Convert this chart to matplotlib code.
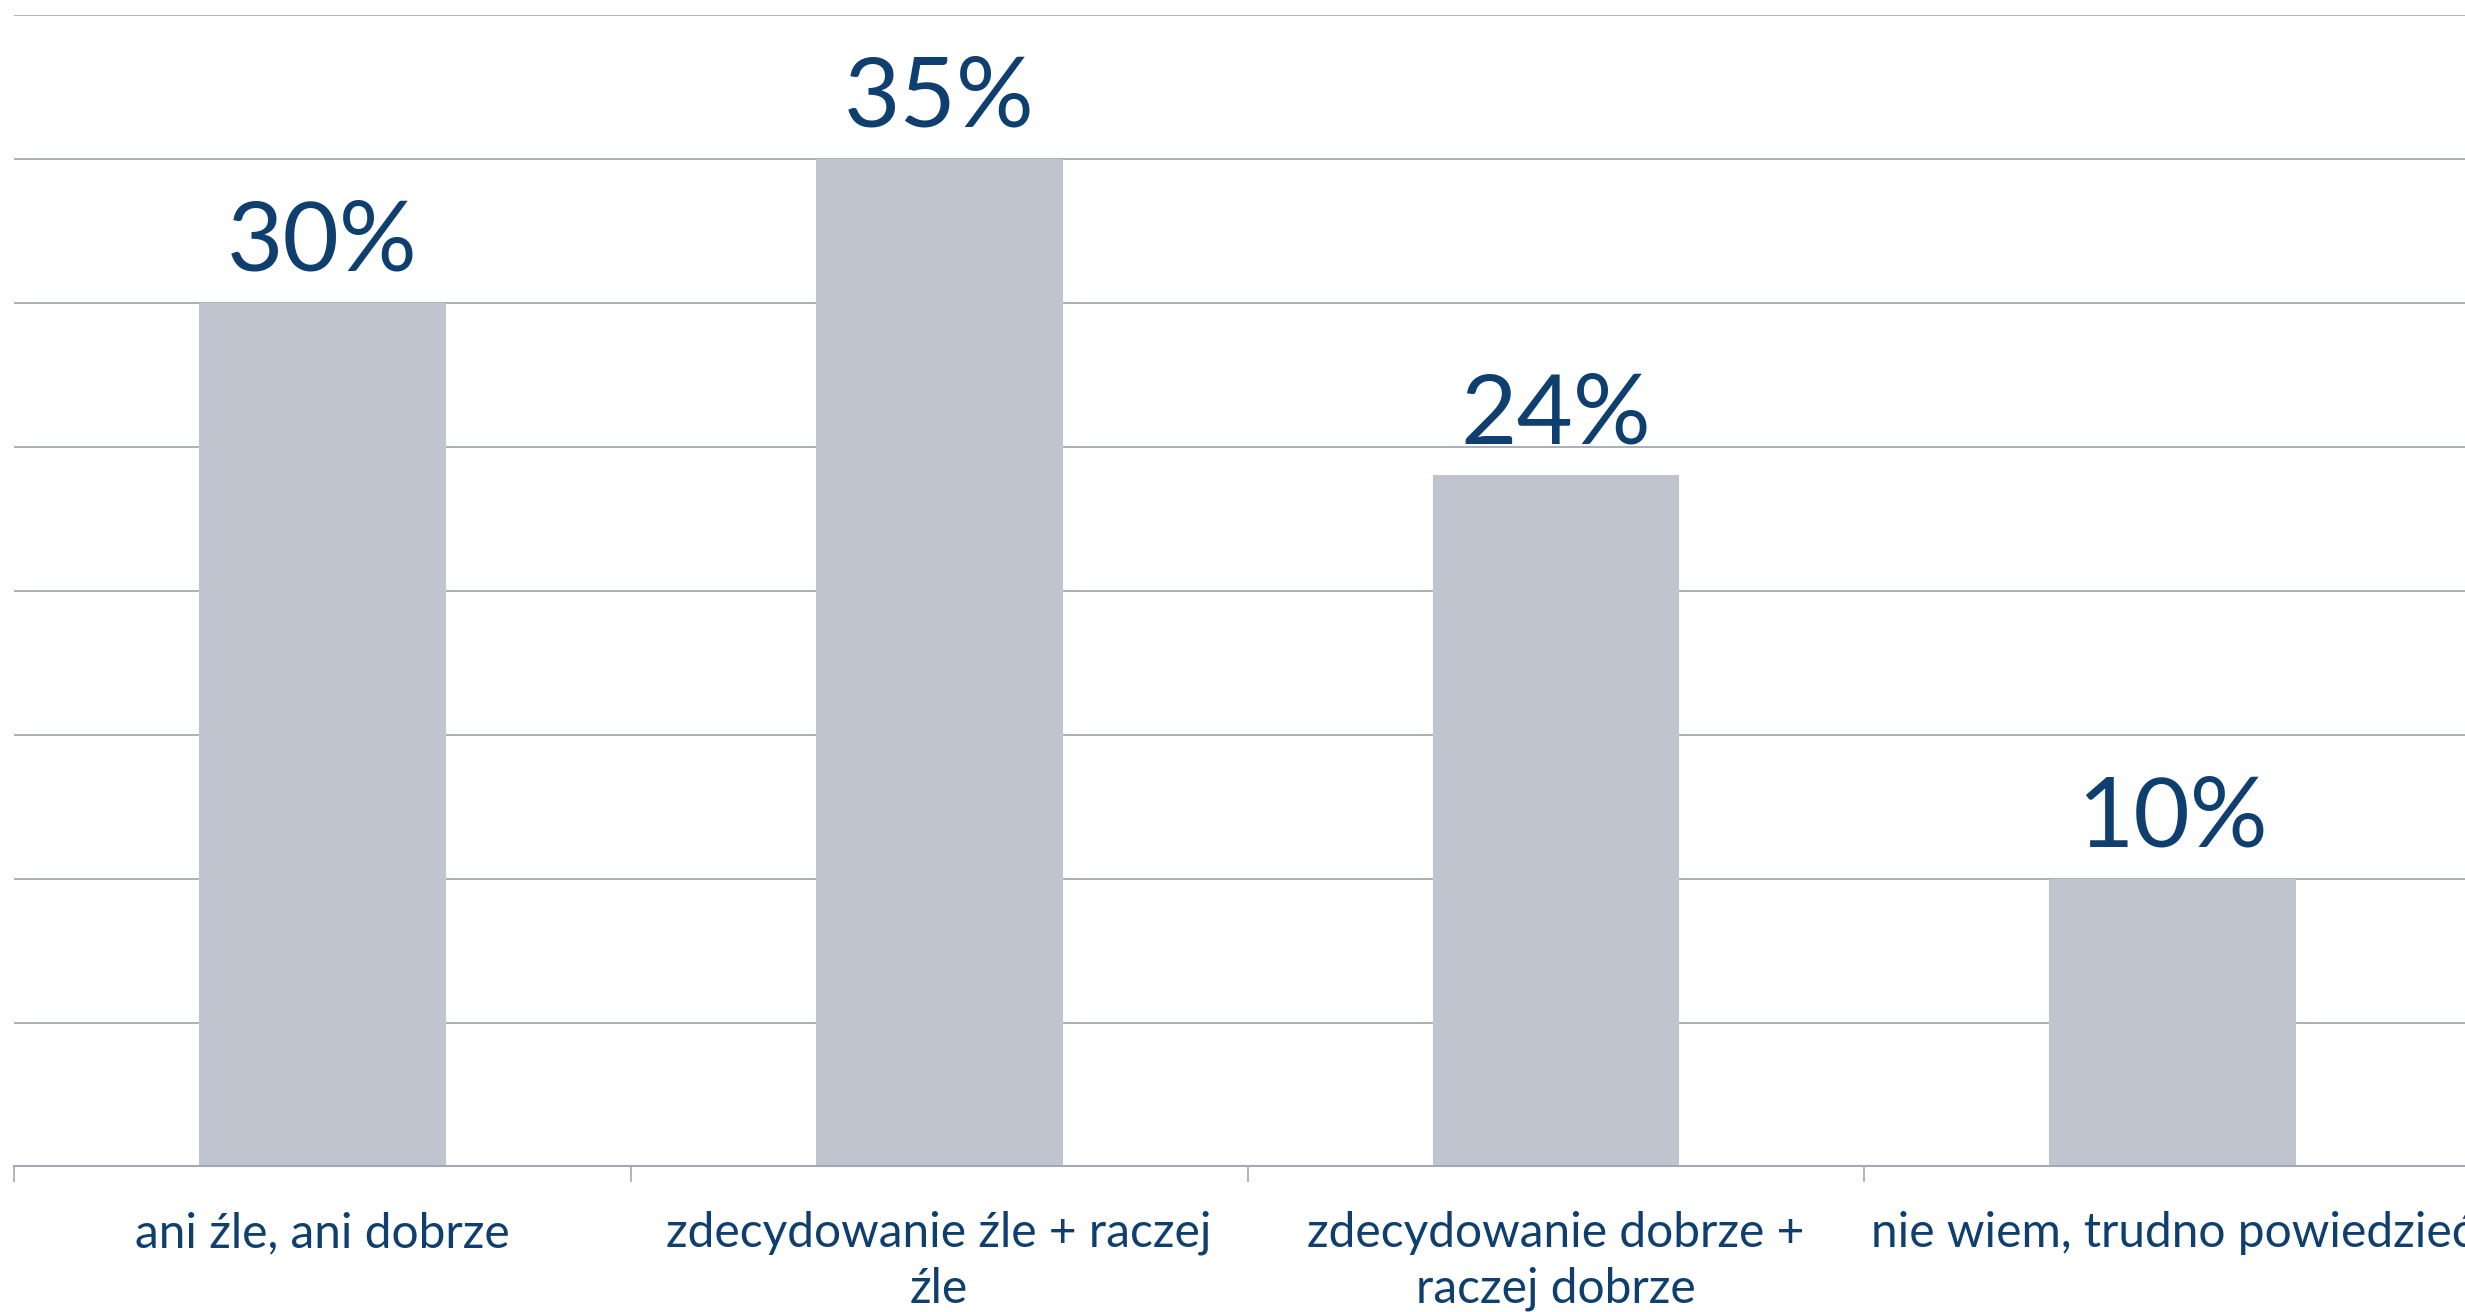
import matplotlib
matplotlib.use("Agg")
import matplotlib.pyplot as plt
import numpy as np

categories = [
    "ani źle, ani dobrze",
    "zdecydowanie źle + raczej\nźle",
    "zdecydowanie dobrze +\nraczej dobrze",
    "nie wiem, trudno powiedzieć",
]
values = [30, 35, 24, 10]
labels = ["30%", "35%", "24%", "10%"]

plt.rcParams["font.family"] = ["Lato", "DejaVu Sans"]

text_color = "#0E3F6E"
bar_color = "#BFC4CE"
grid_color = "#A3A8B5"

fig = plt.figure(figsize=(24.65, 13.12), dpi=100)
ax = fig.add_axes([0.0057, 0.1109, 1.0008, 0.878])

x = np.arange(len(categories))
ax.bar(x, values, width=0.4, color=bar_color, zorder=2)

for xi, v, lab in zip(x, values, labels):
    ax.annotate(lab, (xi, v), xytext=(0, 23), textcoords="offset points",
                ha="center", va="baseline", fontsize=70, color=text_color)

ax.set_xlim(-0.5, len(categories) - 0.5)
ax.set_ylim(0, 40)
ax.set_yticks(np.arange(0, 45, 5))
ax.yaxis.grid(True, color=grid_color, linewidth=1.3, zorder=0)
ax.tick_params(axis="y", length=0, labelleft=False)

ax.set_xticks(x)
ax.set_xticklabels(categories, fontsize=34.5, color=text_color, linespacing=1.32)
ax.tick_params(axis="x", which="major", length=0, pad=32)
ax.set_xticks(np.arange(-0.5, len(categories)), minor=True)
ax.tick_params(axis="x", which="minor", length=11.5, width=1.2, color=grid_color)

for side in ["top", "right", "left"]:
    ax.spines[side].set_visible(False)
ax.spines["bottom"].set_color(grid_color)
ax.spines["bottom"].set_linewidth(1.5)
ax.set_axisbelow(True)

fig.savefig("out.png", dpi=100)
